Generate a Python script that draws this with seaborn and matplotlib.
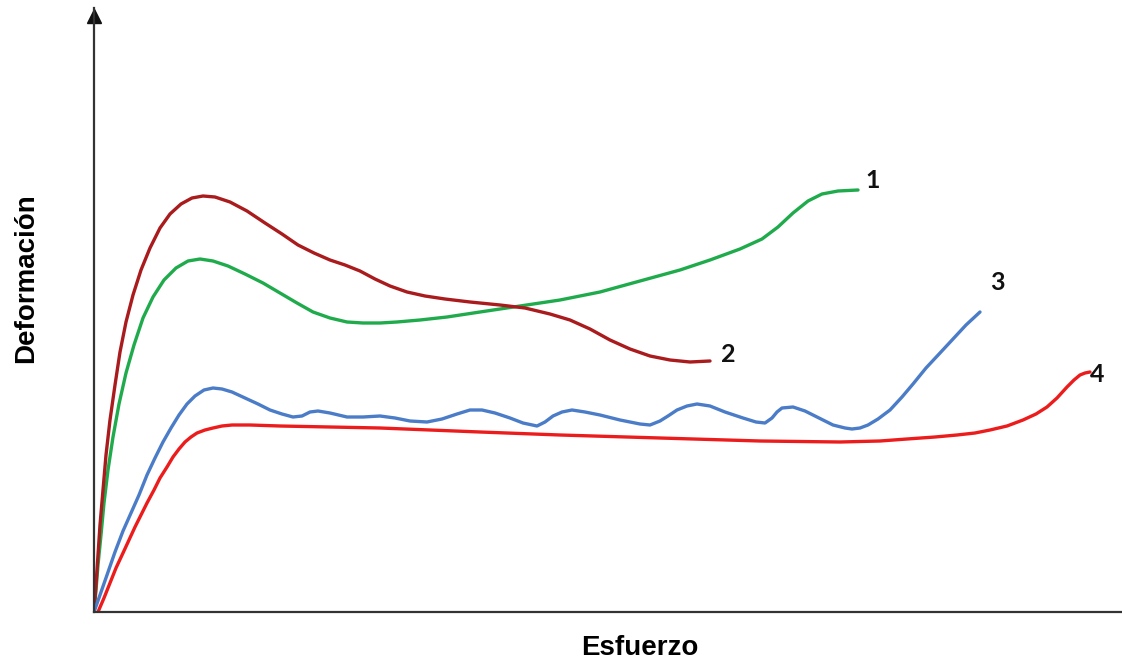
import matplotlib
matplotlib.use("Agg")
import matplotlib.pyplot as plt
import seaborn as sns
import pandas as pd

# --- datos (esfuerzo, deformacion) ---
esf_1 = [0, 2, 4, 7, 10, 14, 19, 25, 32, 40, 49, 59, 70, 82, 94, 106, 119, 134, 151,
         169, 186, 203, 219, 236, 253, 269, 286, 303, 326, 353, 386, 426, 466, 506, 546,
         586, 616, 646, 668, 684, 699, 714, 728, 744, 764]
def_1 = [0, 22, 47, 77, 109, 142, 175, 208, 239, 267, 294, 315, 332, 344, 351, 353, 351,
         346, 338, 329, 319, 309, 300, 294, 290, 289, 289, 290, 292, 295, 300, 306, 312,
         320, 331, 342, 352, 363, 373, 385, 399, 411, 418, 421, 422]

esf_2 = [0, 2, 4, 6, 9, 12, 16, 21, 26, 32, 39, 47, 56, 66, 76, 87, 98, 109, 121, 136,
         153, 171, 188, 204, 220, 236, 251, 266, 281, 296, 313, 331, 351, 376, 406, 431,
         456, 476, 496, 516, 536, 556, 576, 596, 616]
def_2 = [0, 27, 57, 87, 122, 157, 192, 227, 260, 290, 317, 342, 364, 384, 398, 408, 414,
         416, 415, 410, 401, 389, 378, 367, 359, 352, 347, 341, 333, 326, 320, 316, 313,
         310, 307, 304, 298, 292, 283, 272, 263, 256, 252, 250, 251]

esf_3 = [0, 6, 13, 21, 29, 37, 45, 53, 61, 69, 77, 85, 93, 101, 110, 119, 128, 138, 151,
         164, 176, 188, 199, 208, 216, 224, 236, 253, 269, 286, 301, 316, 333, 348, 363,
         376, 388, 401, 416, 429, 443, 451, 459, 468, 478, 491, 506, 526, 546, 556, 566,
         574, 583, 593, 603, 616, 631, 649, 662, 671, 678, 683, 688, 699, 711, 723, 739,
         751, 758, 766, 774, 784, 796, 808, 819, 832, 846, 859, 872, 886]
def_3 = [0, 17, 37, 60, 81, 99, 117, 137, 154, 170, 184, 197, 208, 216, 222, 224, 223,
         220, 214, 208, 202, 198, 195, 196, 200, 201, 199, 195, 195, 196, 194, 191, 190,
         193, 198, 202, 202, 199, 194, 189, 186, 190, 196, 200, 202, 200, 197, 192, 188,
         187, 191, 196, 202, 206, 208, 206, 200, 194, 190, 189, 194, 200, 204, 205, 201,
         195, 187, 184, 183, 184, 187, 193, 202, 215, 228, 244, 259, 273, 287, 300]

esf_4 = [4, 10, 16, 22, 29, 35, 41, 47, 53, 60, 66, 73, 79, 85, 91, 97, 103, 111, 119,
         128, 138, 156, 186, 236, 286, 336, 386, 466, 566, 666, 746, 786, 813, 841, 863,
         881, 896, 913, 929, 942, 953, 963, 973, 980, 986, 991, 996]
def_4 = [0, 14, 29, 44, 59, 72, 85, 97, 109, 122, 134, 145, 155, 163, 170, 175, 179,
         182, 184, 186, 187, 187, 186, 185, 184, 182, 180, 177, 174, 171, 170, 171, 173,
         175, 177, 179, 182, 186, 192, 198, 205, 214, 225, 232, 237, 239, 240]

curvas = ["1", "2", "3", "4"]
colores = ["#1fab4c", "#a91b1d", "#4a7cc8", "#ec1c1c"]

# posicion de las etiquetas numericas
etq_x = [779, 634, 903, 1003]
etq_y = [432, 258, 329, 237]

series = {
    "1": (esf_1, def_1),
    "2": (esf_2, def_2),
    "3": (esf_3, def_3),
    "4": (esf_4, def_4),
}

sns.set_theme(style="white")
plt.rcParams['font.family'] = ['Liberation Sans', 'DejaVu Sans']

fig = plt.figure(figsize=(11.22, 6.62), dpi=100)
fig.patch.set_facecolor('white')
ax = fig.add_axes([94 / 1122, 50 / 662, 1028 / 1122, 604 / 662])
ax.set_facecolor('white')

for nombre, color in zip(curvas, colores):
    x, y = series[nombre]
    df = pd.DataFrame({'Esfuerzo': x, 'Deformacion': y})
    sns.lineplot(data=df, x='Esfuerzo', y='Deformacion', sort=False, estimator=None,
                 color=color, linewidth=2.4, ax=ax, legend=False,
                 solid_joinstyle='round', solid_capstyle='round')

for nombre, xe, ye in zip(curvas, etq_x, etq_y):
    ax.text(xe, ye, nombre, ha='center', va='center', fontsize=18,
            fontweight='bold', family='Lato', color='#111111')

ax.set_xlim(0, 1028)
ax.set_ylim(0, 604)
ax.set_xticks([])
ax.set_yticks([])
ax.set_xlabel("")
ax.set_ylabel("")
for lado in ['top', 'right']:
    ax.spines[lado].set_visible(False)
for lado in ['left', 'bottom']:
    ax.spines[lado].set_color('#333333')
    ax.spines[lado].set_linewidth(1.6)

# flecha del eje vertical
ax.plot([0], [596], marker='^', markersize=10, color='#111111', clip_on=False)

fig.text(640 / 1122, 1 - 648 / 662, "Esfuerzo", ha='center', va='center',
         fontsize=20, fontweight='bold', color='black')
fig.text(26 / 1122, 1 - 278 / 662, "Deformación", ha='center', va='center',
         rotation=90, fontsize=20, fontweight='bold', color='black')

plt.savefig("out.png", dpi=100, facecolor='white')
plt.close()
